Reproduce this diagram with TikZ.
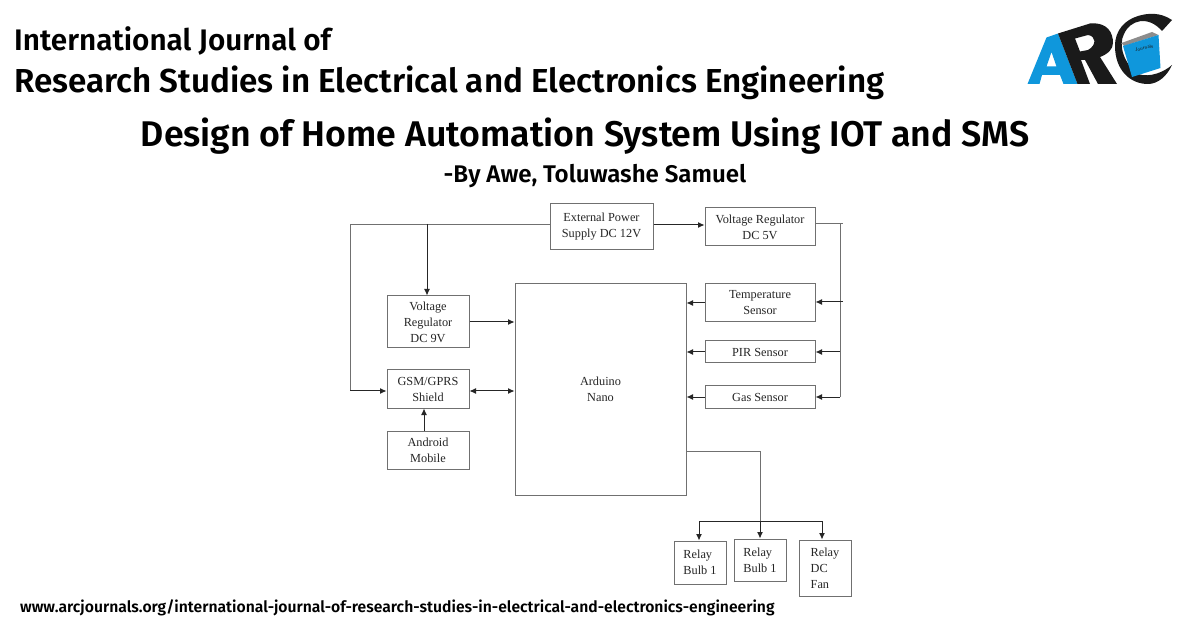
\documentclass[tikz,border=0pt]{standalone}
\usepackage{fontspec}
\usetikzlibrary{arrows.meta}
\setmainfont{Liberation Serif}
\newfontfamily\headfont{Fira Sans}[BoldFont={Fira Sans SemiBold}]
\definecolor{arcblue}{HTML}{0F97DC}
\definecolor{arcblack}{HTML}{1A1A1A}
\definecolor{boxgray}{HTML}{707070}
\tikzset{
  blockbox/.style={draw=boxgray, line width=1pt, inner sep=0pt, align=center, font=\fontsize{12.3}{16}\selectfont, text=black!85},
  relaybox/.style={blockbox, align=left},
  headtext/.style={inner sep=0pt, text=black, font=\headfont\bfseries},
  wire/.style={draw=boxgray, line width=1pt},
  feed/.style={draw=black!85, line width=1pt, -{Latex[length=6.5pt,width=6pt]}}
}
\begin{document}
\begin{tikzpicture}[x=1pt, y=-1pt]
  \useasboundingbox[fill=white] (0,0) rectangle (1200,628);
  % Titles
  \node[headtext, anchor=west, font=\headfont\bfseries\fontsize{29.7}{32}\selectfont] (journal) at (14,41) {International Journal of};
  \node[headtext, anchor=west, font=\headfont\bfseries\fontsize{33.2}{36}\selectfont] (field) at (14,83) {Research Studies in Electrical and Electronics Engineering};
  \node[headtext, font=\headfont\bfseries\fontsize{35.7}{40}\selectfont] (title) at (585,136) {Design of Home Automation System Using IOT and SMS};
  \node[headtext, font=\headfont\bfseries\fontsize{24.1}{28}\selectfont] (byline) at (595,176) {-By Awe, Toluwashe Samuel};
  \node[headtext, anchor=west, font=\headfont\bfseries\fontsize{15.7}{20}\selectfont] (url) at (20,608) {www.arcjournals.org/international-journal-of-research-studies-in-electrical-and-electronics-engineering};

  % Logo
  \fill[arcblue, even odd rule] (1027.5,84) -- (1046.5,37.5) -- (1058,33.5) -- (1077.5,84) -- (1063.5,84) -- (1060,75) -- (1042,75) -- (1039.5,84) -- cycle
    (1046.5,66.5) -- (1056.5,66.5) -- (1051.5,52) -- cycle;
  \fill[arcblack, even odd rule] (1058,33.5) -- (1090,23.5) .. controls (1108,22) and (1113,33) .. (1113,43) .. controls (1113,49) and (1108,54) .. (1100,57) -- (1117,84) -- (1098,84) -- (1085,60) -- (1081,60) -- (1090,84) -- (1077.5,84) -- cycle
    (1075,38.5) -- (1088,35) .. controls (1096,36) and (1097,45) .. (1088,50) -- (1080,51.5) -- cycle;
  \fill[arcblack] (1172,20) .. controls (1160,12) and (1148,13) .. (1138,16) .. controls (1125,20) and (1115,30) .. (1115,46) .. controls (1115,70) and (1130,84) .. (1148,84) .. controls (1158,84) and (1167,76) .. (1172,65) .. controls (1164,72) and (1150,78) .. (1138,74) .. controls (1124,64) and (1118,45) .. (1124,34) .. controls (1130,20) and (1148,15) .. (1162,31) -- cycle;
  \fill[black!45] (1121.5,43) -- (1152,32) -- (1158.5,35) -- (1124,46) -- cycle;
  \fill[arcblue] (1123,46) -- (1158.5,35) -- (1160.5,68) -- (1132,77) -- cycle;
  \node[inner sep=0pt, rotate=12, text=arcblack, font=\fontsize{5}{6}\selectfont\sffamily] (booklabel) at (1144,48) {Journals};

  % Blocks
  \node[blockbox, minimum width=103pt, minimum height=46pt] (ext) at (601.5,227) {External Power\\Supply DC 12V};
  \node[blockbox, minimum width=110pt, minimum height=38pt] (vfive) at (760,227) {Voltage Regulator\\DC 5V};
  \node[blockbox, minimum width=82pt, minimum height=52pt] (vnine) at (428,322) {Voltage\\Regulator\\DC 9V};
  \node[blockbox, minimum width=82pt, minimum height=38pt] (gsm) at (428,389) {GSM/GPRS\\Shield};
  \node[blockbox, minimum width=82pt, minimum height=38pt] (mobile) at (428,450) {Android\\Mobile};
  \node[blockbox, minimum width=171pt, minimum height=211pt] (nano) at (600.5,389.5) {Arduino\\Nano};
  \node[blockbox, minimum width=110pt, minimum height=38pt] (temp) at (760,303) {Temperature\\Sensor};
  \node[blockbox, minimum width=110pt, minimum height=22pt] (pir) at (760,352) {PIR Sensor};
  \node[blockbox, minimum width=110pt, minimum height=22pt] (gas) at (760,397) {Gas Sensor};
  \node[relaybox, minimum width=52pt, minimum height=43pt] (relaya) at (700,562.5) {Relay\\Bulb 1};
  \node[relaybox, minimum width=52pt, minimum height=42pt] (relayb) at (760,560) {Relay\\Bulb 1};
  \node[relaybox, minimum width=52pt, minimum height=56pt] (relayc) at (825,568) {Relay\\DC\\Fan};

  % Junctions
  \coordinate (extleft) at (550,225);
  \coordinate (tapnine) at (427,224);
  \coordinate (railcorner) at (350,225);
  \coordinate (railgsm) at (350,391);
  \coordinate (fivetop) at (843,224);
  \coordinate (fivebus) at (840,224);
  \coordinate (tempstub) at (843,302);
  \coordinate (busend) at (840,397);
  \coordinate (nanoout) at (686,451);
  \coordinate (outcorner) at (760,451);
  \coordinate (splita) at (699,521);
  \coordinate (splitb) at (760,521);
  \coordinate (splitc) at (822,521);

  % Connectors
  \draw[wire] (extleft) -- (railcorner) -- (railgsm);
  \draw[feed] (railgsm) -- (gsm.west |- railgsm);
  \draw[feed] (tapnine) -- (tapnine |- vnine.north);
  \draw[feed] (vnine.east |- 0,322) -- (nano.west |- 0,322);
  \draw[feed, {Latex[length=6.5pt,width=6pt]}-{Latex[length=6.5pt,width=6pt]}] (gsm.east |- 0,391) -- (nano.west |- 0,391);
  \draw[feed] (mobile.north -| 424,0) -- (gsm.south -| 424,0);
  \draw[feed] (ext.east |- 0,225) -- (vfive.west |- 0,225);
  \draw[wire] (vfive.east |- fivetop) -- (fivetop);
  \draw[wire] (fivebus) -- (busend);
  \draw[feed] (tempstub) -- (temp.east |- tempstub);
  \draw[feed] (fivebus |- pir.east) -- (pir.east);
  \draw[feed] (busend) -- (gas.east);
  \draw[feed] (temp.west) -- (nano.east |- temp.west);
  \draw[feed] (pir.west) -- (nano.east |- pir.west);
  \draw[feed] (gas.west) -- (nano.east |- gas.west);
  \draw[wire] (nanoout) -- (outcorner) -- (splitb);
  \draw[draw=black!85, line width=1pt] (splita) -- (splitc);
  \draw[feed] (splita) -- (splita |- relaya.north);
  \draw[feed] (splitb) -- (relayb.north);
  \draw[feed] (splitc) -- (splitc |- relayc.north);
\end{tikzpicture}
\end{document}
